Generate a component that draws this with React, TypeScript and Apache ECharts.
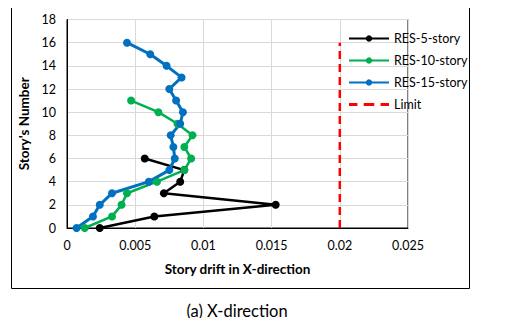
import React, { useEffect, useRef } from "react";
import * as echarts from "echarts";

const storiesRes5 = [0, 1, 2, 3, 4, 5, 6];
const driftRes5 = [0.0024, 0.0064, 0.0153, 0.0071, 0.0083, 0.0086, 0.0057];
const storiesRes10 = [0, 1, 2, 3, 4, 5, 6, 7, 8, 9, 10, 11];
const driftRes10 = [0.0013, 0.0033, 0.004, 0.0044, 0.0066, 0.0086, 0.0091, 0.0086, 0.0092, 0.0081, 0.0067, 0.0047];
const storiesRes15 = [0, 1, 2, 3, 4, 5, 6, 7, 8, 9, 10, 11, 12, 13, 14, 15, 16];
const driftRes15 = [0.0007, 0.0019, 0.0024, 0.0033, 0.006, 0.0075, 0.0079, 0.0078, 0.0076, 0.0083, 0.0085, 0.008, 0.0075, 0.0084, 0.0073, 0.0061, 0.0044];
const limitDrift = 0.02;
const limitStories = [0, 16];
const xTicks = ["0", "0.005", "0.01", "0.015", "0.02", "0.025"];

const FONT = "Lato, 'Liberation Sans', sans-serif";

export default function App() {
  const ref = useRef<HTMLDivElement>(null);
  useEffect(() => {
    if (!ref.current) return;
    const chart = echarts.init(ref.current, undefined, { renderer: "svg" });
    const pair = (xs: number[], ys: number[]) => xs.map((x, i) => [x, ys[i]]);
    const lineSeries = (name: string, xs: number[], ys: number[], color: string, width: number) => ({
      name,
      type: "line",
      data: pair(xs, ys),
      symbol: "circle",
      symbolSize: 8,
      showSymbol: true,
      itemStyle: { color },
      lineStyle: { color, width },
      z: 3,
    });
    chart.setOption({
      animation: false,
      textStyle: { fontFamily: FONT },
      grid: {
        left: 67,
        right: 97,
        top: 19.5,
        bottom: 98,
        show: true,
        borderColor: "#000",
        borderWidth: 1,
      },
      legend: {
        orient: "vertical",
        left: 348,
        top: 32,
        padding: 0,
        itemWidth: 40,
        itemHeight: 8,
        itemGap: 9,
        textStyle: { fontSize: 12.5, color: "#000", fontFamily: FONT },
        data: [
          "RES-5-story",
          "RES-10-story",
          "RES-15-story",
          {
            name: "Limit",
            icon: "path://M0,0h8v3h-8z M14,0h10v3h-10z M30,0h8v3h-8z",
            itemStyle: { color: "#FF0000" },
          },
        ],
      },
      xAxis: {
        type: "value",
        min: 0,
        max: 0.025,
        interval: 0.005,
        name: "Story drift in X-direction",
        nameLocation: "middle",
        nameGap: 34,
        nameTextStyle: { fontWeight: "bold", fontSize: 13.5, color: "#000", fontFamily: FONT },
        axisLine: { show: true, lineStyle: { color: "#000" } },
        axisTick: { show: false },
        axisLabel: {
          fontSize: 12.5,
          color: "#000",
          margin: 11,
          formatter: (v: number) => xTicks[Math.round(v / 0.005)] ?? String(v),
        },
        splitLine: { show: true, lineStyle: { color: "#D9D9D9" } },
      },
      yAxis: {
        type: "value",
        min: 0,
        max: 18,
        interval: 2,
        name: "Story's Number",
        nameLocation: "middle",
        nameGap: 32,
        nameTextStyle: { fontWeight: "bold", fontSize: 13.5, color: "#000", fontFamily: FONT },
        axisLine: { show: true, lineStyle: { color: "#000" } },
        axisTick: { show: false },
        axisLabel: { fontSize: 12.5, color: "#000", margin: 11 },
        splitLine: { show: true, lineStyle: { color: "#D9D9D9" } },
      },
      series: [
        lineSeries("RES-5-story", driftRes5, storiesRes5, "#000000", 2.5),
        lineSeries("RES-10-story", driftRes10, storiesRes10, "#00B050", 2.5),
        lineSeries("RES-15-story", driftRes15, storiesRes15, "#0070C0", 3),
        {
          name: "Limit",
          type: "line",
          data: limitStories.map((s) => [limitDrift, s]),
          symbol: "none",
          itemStyle: { color: "#FF0000" },
          lineStyle: { color: "#FF0000", width: 2.5, type: [8, 5] },
          z: 2,
        },
      ],
      graphic: [
        {
          type: "rect",
          left: 9,
          top: -1,
          shape: { width: 458, height: 287 },
          style: { fill: "none", stroke: "#000", lineWidth: 1 },
          silent: true,
        },
        {
          type: "text",
          x: 237,
          y: 311,
          style: {
            text: "(a) X-direction",
            font: `16.5px ${FONT}`,
            fill: "#000",
            textAlign: "center",
            textVerticalAlign: "middle",
          },
        },
      ],
    });
    return () => chart.dispose();
  }, []);
  return <div ref={ref} style={{ width: 505, height: 326, margin: -8 }} />;
}
